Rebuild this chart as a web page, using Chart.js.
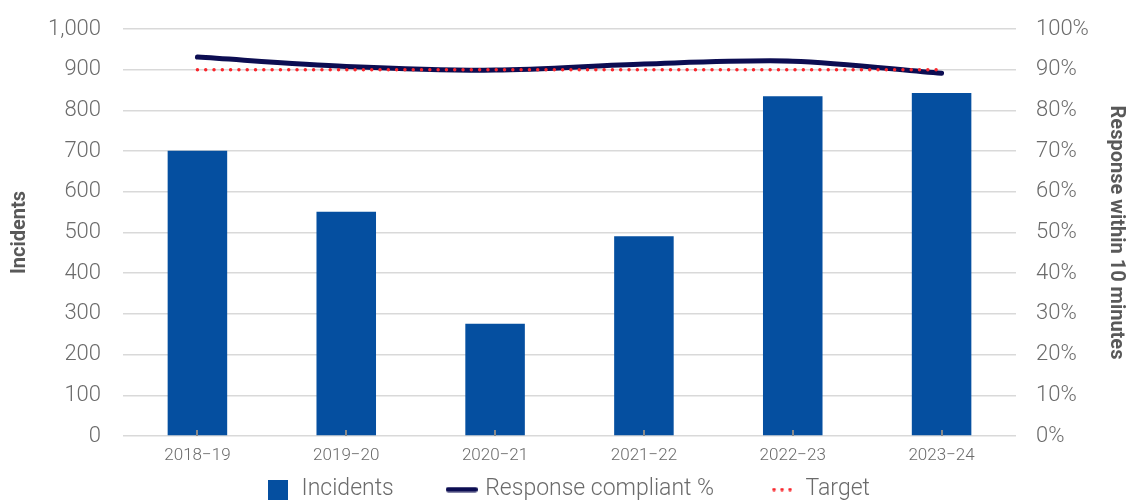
<!DOCTYPE html>
<html>
<head>
<meta charset="utf-8">
<script src="https://cdn.jsdelivr.net/npm/chart.js@4.4.1/dist/chart.umd.min.js"></script>
<style>
  html, body { margin: 0; padding: 0; background: #fff; }
  #wrap { width: 1136px; height: 502px; }
</style>
</head>
<body>
<div id="wrap"><canvas id="incidentChart"></canvas></div>
<script>
// chart data
const years = ['2018\u221219', '2019\u221220', '2020\u221221', '2021\u221222', '2022\u221223', '2023\u221224'];
const incidents = [701, 551, 276, 491, 835, 843];
const compliantPct = [93.1, 90.8, 89.9, 91.4, 92.1, 89.1];
const targetPct = [90, 90, 90, 90, 90, 90];

const grey = '#6b6b6b';
const gridGrey = '#d9d9d9';
const barBlue = '#054fa0';
const navy = '#0c0d52';
const red = '#f8262c';
const legendGap = 56;

// legend symbols, drawn once as tiny canvases
function swatch(w, h, draw) {
  const cv = document.createElement('canvas');
  cv.width = w;
  cv.height = h;
  draw(cv.getContext('2d'));
  return cv;
}
const barSwatch = swatch(20, 20, c => { c.fillStyle = barBlue; c.fillRect(0, 0, 20, 20); });
const lineSwatch = swatch(32, 6, c => {
  c.strokeStyle = navy; c.lineWidth = 5; c.lineCap = 'round';
  c.beginPath(); c.moveTo(2.5, 3); c.lineTo(29.5, 3); c.stroke();
});
const dotSwatch = swatch(20, 4, c => {
  c.fillStyle = red;
  [2, 10, 18].forEach(x => { c.beginPath(); c.arc(x, 2, 1.8, 0, Math.PI * 2); c.fill(); });
});

// small grey tick marks at bottom of each bar
const innerTicks = {
  id: 'innerTicks',
  afterDatasetsDraw(chart) {
    const x = chart.scales.x;
    const bottom = chart.chartArea.bottom;
    const c = chart.ctx;
    c.save();
    c.strokeStyle = '#8a8a8a';
    c.lineWidth = 2;
    years.forEach((_, i) => {
      const px = Math.round(x.getPixelForValue(i));
      c.beginPath();
      c.moveTo(px, bottom - 6);
      c.lineTo(px, bottom);
      c.stroke();
    });
    c.restore();
  }
};

// legend padding also pads the top of the box, pull the items back up
// (only move the top so the clip box still covers the items)
const legendNudge = {
  id: 'legendNudge',
  afterLayout(chart) {
    chart.legend.top += 8 - legendGap;
  }
};

Chart.defaults.font.family = 'Roboto, "Noto Sans", sans-serif';
Chart.defaults.color = grey;

new Chart(document.getElementById('incidentChart'), {
  type: 'bar',
  data: {
    labels: years,
    datasets: [
      {
        type: 'line',
        label: 'Response compliant %',
        data: compliantPct,
        yAxisID: 'yPct',
        borderColor: navy,
        backgroundColor: navy,
        borderWidth: 5,
        tension: 0.3,
        pointRadius: 0,
        borderCapStyle: 'round',
        pointStyle: lineSwatch,
        order: 1
      },
      {
        type: 'line',
        label: 'Target',
        data: targetPct,
        yAxisID: 'yPct',
        borderColor: red,
        backgroundColor: red,
        borderWidth: 3.5,
        borderDash: [0, 8.3],
        borderCapStyle: 'round',
        pointRadius: 0,
        pointStyle: dotSwatch,
        order: 0
      },
      {
        label: 'Incidents',
        data: incidents,
        yAxisID: 'y',
        backgroundColor: barBlue,
        categoryPercentage: 1,
        barPercentage: 0.4,
        pointStyle: barSwatch,
        order: 2
      }
    ]
  },
  options: {
    responsive: true,
    maintainAspectRatio: false,
    animation: false,
    layout: { padding: { top: 29, left: 0, right: 0, bottom: 0 } },
    plugins: {
      tooltip: { enabled: false },
      legend: {
        position: 'bottom',
        reverse: true,
        maxHeight: 32,
        labels: {
          usePointStyle: true,
          pointStyleWidth: 24,
          boxHeight: 20,
          padding: legendGap,
          color: grey,
          font: { size: 23, weight: 300 }
        }
      }
    },
    scales: {
      x: {
        afterFit(scale) { scale.height = 34; },
        grid: { display: false, drawTicks: false },
        border: { display: false },
        ticks: { color: grey, font: { size: 17, weight: 300 }, padding: 10, maxRotation: 0 }
      },
      y: {
        position: 'left',
        min: 0,
        max: 1000,
        afterFit(scale) { scale.width = 123; scale.paddingTop = 0; },
        grid: { color: gridGrey, lineWidth: 1.5, drawTicks: false },
        border: { display: false },
        ticks: {
          stepSize: 100,
          padding: 22,
          color: grey,
          font: { size: 22, weight: 300 },
          callback: v => v.toLocaleString('en-US')
        },
        title: {
          display: true,
          text: 'Incidents',
          color: '#595959',
          font: { size: 20, weight: 'bold' },
          padding: { top: 8, bottom: 0 }
        }
      },
      yPct: {
        position: 'right',
        min: 0,
        max: 100,
        afterFit(scale) { scale.width = 120; scale.paddingTop = 0; },
        grid: { display: false, drawTicks: false },
        border: { display: false },
        ticks: {
          stepSize: 10,
          padding: 20,
          color: grey,
          font: { size: 22, weight: 300 },
          callback: v => v + '%'
        },
        title: {
          display: true,
          text: 'Response within 10 minutes',
          color: '#595959',
          font: { size: 20, weight: 'bold' },
          padding: { top: 8, bottom: 0 }
        }
      }
    }
  },
  plugins: [innerTicks, legendNudge]
});
</script>
</body>
</html>
